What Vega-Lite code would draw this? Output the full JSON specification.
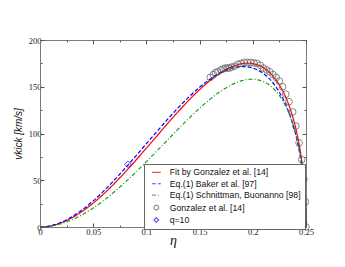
{
  "$schema": "https://vega.github.io/schema/vega-lite/v6.json",
  "autosize": {"type": "none"},
  "padding": {"left": 40, "top": 40, "right": 39, "bottom": 40},
  "width": 266,
  "height": 187,
  "background": "white",
  "config": {
    "view": {"stroke": "#7a7a7a", "strokeWidth": 1},
    "axis": {"grid": false, "domainColor": "#7a7a7a", "tickColor": "#555", "labelFont": "Liberation Serif", "labelFontSize": 8.5, "labelColor": "#222", "titleColor": "#111"},
    "legend": {"orient": "none", "legendX": 104, "legendY": 124, "strokeColor": "#666", "fillColor": "white", "padding": 4, "labelFont": "Liberation Sans", "labelFontSize": 8.7, "labelColor": "#111", "symbolSize": 22, "symbolStrokeWidth": 1.1, "rowPadding": 1.4, "symbolFillColor": "transparent", "labelOffset": 9, "symbolOffset": 4}
  },
  "datasets": {
    "curves": [
      {"series": "Fit by Gonzalez et al. [14]", "eta": 0, "v": 0},
      {"series": "Fit by Gonzalez et al. [14]", "eta": 0.005, "v": 0.3},
      {"series": "Fit by Gonzalez et al. [14]", "eta": 0.01, "v": 1.17},
      {"series": "Fit by Gonzalez et al. [14]", "eta": 0.02, "v": 4.52},
      {"series": "Fit by Gonzalez et al. [14]", "eta": 0.03, "v": 9.85},
      {"series": "Fit by Gonzalez et al. [14]", "eta": 0.04, "v": 16.94},
      {"series": "Fit by Gonzalez et al. [14]", "eta": 0.05, "v": 25.58},
      {"series": "Fit by Gonzalez et al. [14]", "eta": 0.06, "v": 35.56},
      {"series": "Fit by Gonzalez et al. [14]", "eta": 0.07, "v": 46.65},
      {"series": "Fit by Gonzalez et al. [14]", "eta": 0.08, "v": 58.62},
      {"series": "Fit by Gonzalez et al. [14]", "eta": 0.09, "v": 71.25},
      {"series": "Fit by Gonzalez et al. [14]", "eta": 0.10, "v": 84.31},
      {"series": "Fit by Gonzalez et al. [14]", "eta": 0.11, "v": 97.54},
      {"series": "Fit by Gonzalez et al. [14]", "eta": 0.12, "v": 110.7},
      {"series": "Fit by Gonzalez et al. [14]", "eta": 0.13, "v": 123.5},
      {"series": "Fit by Gonzalez et al. [14]", "eta": 0.14, "v": 135.7},
      {"series": "Fit by Gonzalez et al. [14]", "eta": 0.15, "v": 146.9},
      {"series": "Fit by Gonzalez et al. [14]", "eta": 0.16, "v": 156.9},
      {"series": "Fit by Gonzalez et al. [14]", "eta": 0.17, "v": 165.2},
      {"series": "Fit by Gonzalez et al. [14]", "eta": 0.18, "v": 171.3},
      {"series": "Fit by Gonzalez et al. [14]", "eta": 0.19, "v": 174.7},
      {"series": "Fit by Gonzalez et al. [14]", "eta": 0.195, "v": 175.2},
      {"series": "Fit by Gonzalez et al. [14]", "eta": 0.20, "v": 174.7},
      {"series": "Fit by Gonzalez et al. [14]", "eta": 0.205, "v": 173.2},
      {"series": "Fit by Gonzalez et al. [14]", "eta": 0.21, "v": 170.3},
      {"series": "Fit by Gonzalez et al. [14]", "eta": 0.22, "v": 160.0},
      {"series": "Fit by Gonzalez et al. [14]", "eta": 0.225, "v": 151.9},
      {"series": "Fit by Gonzalez et al. [14]", "eta": 0.23, "v": 141.1},
      {"series": "Fit by Gonzalez et al. [14]", "eta": 0.235, "v": 126.9},
      {"series": "Fit by Gonzalez et al. [14]", "eta": 0.24, "v": 107.4},
      {"series": "Fit by Gonzalez et al. [14]", "eta": 0.2425, "v": 94.7},
      {"series": "Fit by Gonzalez et al. [14]", "eta": 0.245, "v": 78.65},
      {"series": "Fit by Gonzalez et al. [14]", "eta": 0.2475, "v": 56.6},
      {"series": "Fit by Gonzalez et al. [14]", "eta": 0.249, "v": 36.2},
      {"series": "Fit by Gonzalez et al. [14]", "eta": 0.2495, "v": 25.7},
      {"series": "Fit by Gonzalez et al. [14]", "eta": 0.25, "v": 0},
      {"series": "Eq.(1) Baker et al.  [97]", "eta": 0, "v": 0},
      {"series": "Eq.(1) Baker et al.  [97]", "eta": 0.005, "v": 0.33},
      {"series": "Eq.(1) Baker et al.  [97]", "eta": 0.01, "v": 1.3},
      {"series": "Eq.(1) Baker et al.  [97]", "eta": 0.02, "v": 5.03},
      {"series": "Eq.(1) Baker et al.  [97]", "eta": 0.03, "v": 10.89},
      {"series": "Eq.(1) Baker et al.  [97]", "eta": 0.04, "v": 18.62},
      {"series": "Eq.(1) Baker et al.  [97]", "eta": 0.05, "v": 27.95},
      {"series": "Eq.(1) Baker et al.  [97]", "eta": 0.06, "v": 38.61},
      {"series": "Eq.(1) Baker et al.  [97]", "eta": 0.07, "v": 50.31},
      {"series": "Eq.(1) Baker et al.  [97]", "eta": 0.08, "v": 62.81},
      {"series": "Eq.(1) Baker et al.  [97]", "eta": 0.09, "v": 75.83},
      {"series": "Eq.(1) Baker et al.  [97]", "eta": 0.10, "v": 89.09},
      {"series": "Eq.(1) Baker et al.  [97]", "eta": 0.11, "v": 102.3},
      {"series": "Eq.(1) Baker et al.  [97]", "eta": 0.12, "v": 115.3},
      {"series": "Eq.(1) Baker et al.  [97]", "eta": 0.13, "v": 127.7},
      {"series": "Eq.(1) Baker et al.  [97]", "eta": 0.14, "v": 139.1},
      {"series": "Eq.(1) Baker et al.  [97]", "eta": 0.15, "v": 149.5},
      {"series": "Eq.(1) Baker et al.  [97]", "eta": 0.16, "v": 158.3},
      {"series": "Eq.(1) Baker et al.  [97]", "eta": 0.17, "v": 165.2},
      {"series": "Eq.(1) Baker et al.  [97]", "eta": 0.18, "v": 169.8},
      {"series": "Eq.(1) Baker et al.  [97]", "eta": 0.19, "v": 171.6},
      {"series": "Eq.(1) Baker et al.  [97]", "eta": 0.195, "v": 171.3},
      {"series": "Eq.(1) Baker et al.  [97]", "eta": 0.20, "v": 170.0},
      {"series": "Eq.(1) Baker et al.  [97]", "eta": 0.205, "v": 167.7},
      {"series": "Eq.(1) Baker et al.  [97]", "eta": 0.21, "v": 164.1},
      {"series": "Eq.(1) Baker et al.  [97]", "eta": 0.22, "v": 152.6},
      {"series": "Eq.(1) Baker et al.  [97]", "eta": 0.225, "v": 144.1},
      {"series": "Eq.(1) Baker et al.  [97]", "eta": 0.23, "v": 133.2},
      {"series": "Eq.(1) Baker et al.  [97]", "eta": 0.235, "v": 119.1},
      {"series": "Eq.(1) Baker et al.  [97]", "eta": 0.24, "v": 100.3},
      {"series": "Eq.(1) Baker et al.  [97]", "eta": 0.2425, "v": 88.2},
      {"series": "Eq.(1) Baker et al.  [97]", "eta": 0.245, "v": 73.0},
      {"series": "Eq.(1) Baker et al.  [97]", "eta": 0.2475, "v": 52.4},
      {"series": "Eq.(1) Baker et al.  [97]", "eta": 0.249, "v": 33.4},
      {"series": "Eq.(1) Baker et al.  [97]", "eta": 0.2495, "v": 23.7},
      {"series": "Eq.(1) Baker et al.  [97]", "eta": 0.25, "v": 0},
      {"series": "Eq.(1) Schnittman, Buonanno [98]", "eta": 0, "v": 0},
      {"series": "Eq.(1) Schnittman, Buonanno [98]", "eta": 0.005, "v": 0.23},
      {"series": "Eq.(1) Schnittman, Buonanno [98]", "eta": 0.01, "v": 0.9},
      {"series": "Eq.(1) Schnittman, Buonanno [98]", "eta": 0.02, "v": 3.52},
      {"series": "Eq.(1) Schnittman, Buonanno [98]", "eta": 0.03, "v": 7.72},
      {"series": "Eq.(1) Schnittman, Buonanno [98]", "eta": 0.04, "v": 13.38},
      {"series": "Eq.(1) Schnittman, Buonanno [98]", "eta": 0.05, "v": 20.37},
      {"series": "Eq.(1) Schnittman, Buonanno [98]", "eta": 0.06, "v": 28.53},
      {"series": "Eq.(1) Schnittman, Buonanno [98]", "eta": 0.07, "v": 37.71},
      {"series": "Eq.(1) Schnittman, Buonanno [98]", "eta": 0.08, "v": 47.78},
      {"series": "Eq.(1) Schnittman, Buonanno [98]", "eta": 0.09, "v": 58.54},
      {"series": "Eq.(1) Schnittman, Buonanno [98]", "eta": 0.10, "v": 69.84},
      {"series": "Eq.(1) Schnittman, Buonanno [98]", "eta": 0.11, "v": 81.47},
      {"series": "Eq.(1) Schnittman, Buonanno [98]", "eta": 0.12, "v": 93.24},
      {"series": "Eq.(1) Schnittman, Buonanno [98]", "eta": 0.13, "v": 104.9},
      {"series": "Eq.(1) Schnittman, Buonanno [98]", "eta": 0.14, "v": 116.3},
      {"series": "Eq.(1) Schnittman, Buonanno [98]", "eta": 0.15, "v": 127.0},
      {"series": "Eq.(1) Schnittman, Buonanno [98]", "eta": 0.16, "v": 136.8},
      {"series": "Eq.(1) Schnittman, Buonanno [98]", "eta": 0.17, "v": 145.3},
      {"series": "Eq.(1) Schnittman, Buonanno [98]", "eta": 0.18, "v": 152.1},
      {"series": "Eq.(1) Schnittman, Buonanno [98]", "eta": 0.19, "v": 156.5},
      {"series": "Eq.(1) Schnittman, Buonanno [98]", "eta": 0.195, "v": 157.7},
      {"series": "Eq.(1) Schnittman, Buonanno [98]", "eta": 0.20, "v": 158.0},
      {"series": "Eq.(1) Schnittman, Buonanno [98]", "eta": 0.205, "v": 157.3},
      {"series": "Eq.(1) Schnittman, Buonanno [98]", "eta": 0.21, "v": 155.5},
      {"series": "Eq.(1) Schnittman, Buonanno [98]", "eta": 0.22, "v": 147.5},
      {"series": "Eq.(1) Schnittman, Buonanno [98]", "eta": 0.225, "v": 140.7},
      {"series": "Eq.(1) Schnittman, Buonanno [98]", "eta": 0.23, "v": 131.3},
      {"series": "Eq.(1) Schnittman, Buonanno [98]", "eta": 0.235, "v": 118.6},
      {"series": "Eq.(1) Schnittman, Buonanno [98]", "eta": 0.24, "v": 100.9},
      {"series": "Eq.(1) Schnittman, Buonanno [98]", "eta": 0.2425, "v": 89.2},
      {"series": "Eq.(1) Schnittman, Buonanno [98]", "eta": 0.245, "v": 74.3},
      {"series": "Eq.(1) Schnittman, Buonanno [98]", "eta": 0.2475, "v": 53.6},
      {"series": "Eq.(1) Schnittman, Buonanno [98]", "eta": 0.249, "v": 34.3},
      {"series": "Eq.(1) Schnittman, Buonanno [98]", "eta": 0.2495, "v": 24.3},
      {"series": "Eq.(1) Schnittman, Buonanno [98]", "eta": 0.25, "v": 0}
    ],
    "points": [
      {"series": "Gonzalez et al. [14]", "eta": 0.160, "v": 160},
      {"series": "Gonzalez et al. [14]", "eta": 0.163, "v": 163},
      {"series": "Gonzalez et al. [14]", "eta": 0.165, "v": 165},
      {"series": "Gonzalez et al. [14]", "eta": 0.167, "v": 166},
      {"series": "Gonzalez et al. [14]", "eta": 0.170, "v": 168},
      {"series": "Gonzalez et al. [14]", "eta": 0.172, "v": 169},
      {"series": "Gonzalez et al. [14]", "eta": 0.174, "v": 170},
      {"series": "Gonzalez et al. [14]", "eta": 0.176, "v": 170},
      {"series": "Gonzalez et al. [14]", "eta": 0.178, "v": 170},
      {"series": "Gonzalez et al. [14]", "eta": 0.180, "v": 171},
      {"series": "Gonzalez et al. [14]", "eta": 0.183, "v": 172},
      {"series": "Gonzalez et al. [14]", "eta": 0.186, "v": 174},
      {"series": "Gonzalez et al. [14]", "eta": 0.189, "v": 175},
      {"series": "Gonzalez et al. [14]", "eta": 0.192, "v": 176},
      {"series": "Gonzalez et al. [14]", "eta": 0.195, "v": 176},
      {"series": "Gonzalez et al. [14]", "eta": 0.198, "v": 176},
      {"series": "Gonzalez et al. [14]", "eta": 0.201, "v": 175.5},
      {"series": "Gonzalez et al. [14]", "eta": 0.204, "v": 175},
      {"series": "Gonzalez et al. [14]", "eta": 0.207, "v": 173},
      {"series": "Gonzalez et al. [14]", "eta": 0.210, "v": 170},
      {"series": "Gonzalez et al. [14]", "eta": 0.213, "v": 168},
      {"series": "Gonzalez et al. [14]", "eta": 0.216, "v": 166},
      {"series": "Gonzalez et al. [14]", "eta": 0.219, "v": 163},
      {"series": "Gonzalez et al. [14]", "eta": 0.222, "v": 160},
      {"series": "Gonzalez et al. [14]", "eta": 0.225, "v": 156},
      {"series": "Gonzalez et al. [14]", "eta": 0.228, "v": 150},
      {"series": "Gonzalez et al. [14]", "eta": 0.231, "v": 142},
      {"series": "Gonzalez et al. [14]", "eta": 0.234, "v": 134},
      {"series": "Gonzalez et al. [14]", "eta": 0.2375, "v": 123},
      {"series": "Gonzalez et al. [14]", "eta": 0.2405, "v": 108},
      {"series": "Gonzalez et al. [14]", "eta": 0.2435, "v": 90},
      {"series": "Gonzalez et al. [14]", "eta": 0.246, "v": 72},
      {"series": "Gonzalez et al. [14]", "eta": 0.248, "v": 51},
      {"series": "Gonzalez et al. [14]", "eta": 0.2494, "v": 27},
      {"series": "Gonzalez et al. [14]", "eta": 0.25, "v": 0},
      {"series": "q=10", "eta": 0.0826, "v": 67}
    ]
  },
  "layer": [
    {
      "data": {"name": "curves"},
      "mark": {"type": "line", "strokeWidth": 1.2, "interpolate": "monotone"},
      "encoding": {
        "x": {"field": "eta", "type": "quantitative", "scale": {"domain": [0, 0.25], "nice": false, "zero": false},
          "axis": {"orient": "bottom", "values": [0, 0.025, 0.05, 0.075, 0.1, 0.125, 0.15, 0.175, 0.2, 0.225, 0.25],
            "labelExpr": "round(datum.value*1000) % 50 === 0 ? format(datum.value, '~g') : ''",
            "tickSize": {"condition": {"test": "round(datum.value*1000) % 50 === 0", "value": -4}, "value": -2},
            "labelPadding": 4, "labelFlush": false, "labelOverlap": false,
            "title": "η", "titleFont": "Liberation Serif", "titleFontStyle": "italic", "titleFontSize": 14, "titleFontWeight": "normal", "titlePadding": -4}},
        "y": {"field": "v", "type": "quantitative", "scale": {"domain": [0, 200], "nice": false},
          "axis": {"orient": "left", "values": [0, 25, 50, 75, 100, 125, 150, 175, 200],
            "labelExpr": "datum.value % 50 === 0 ? datum.label : ''",
            "tickSize": {"condition": {"test": "datum.value % 50 === 0", "value": -4}, "value": -2},
            "labelPadding": 3, "labelFlush": false, "labelOverlap": false,
            "title": "vkick [km/s]", "titleFont": "Liberation Sans", "titleFontStyle": "italic", "titleFontSize": 10, "titleFontWeight": "normal", "titlePadding": 5}},
        "color": {"field": "series", "type": "nominal",
          "scale": {"domain": ["Fit by Gonzalez et al. [14]", "Eq.(1) Baker et al.  [97]", "Eq.(1) Schnittman, Buonanno [98]", "Gonzalez et al. [14]", "q=10"],
                    "range": ["#ff0000", "#0000ff", "#1f9a1f", "#555555", "#0000ff"]},
          "legend": {"title": null}},
        "strokeDash": {"field": "series", "type": "nominal",
          "scale": {"domain": ["Fit by Gonzalez et al. [14]", "Eq.(1) Baker et al.  [97]", "Eq.(1) Schnittman, Buonanno [98]", "Gonzalez et al. [14]", "q=10"],
                    "range": [[1, 0], [4, 2], [4, 2, 1, 2], [1, 0], [1, 0]]},
          "legend": {"title": null}}
      }
    },
    {
      "data": {"name": "points"},
      "mark": {"type": "point", "filled": false, "size": 45, "strokeWidth": 1},
      "encoding": {
        "x": {"field": "eta", "type": "quantitative",
          "axis": {"orient": "top", "values": [0, 0.025, 0.05, 0.075, 0.1, 0.125, 0.15, 0.175, 0.2, 0.225, 0.25], "labels": false, "domain": false, "title": null,
            "tickSize": {"condition": {"test": "round(datum.value*1000) % 50 === 0", "value": -4}, "value": -2}}},
        "y": {"field": "v", "type": "quantitative",
          "axis": {"orient": "right", "values": [0, 25, 50, 75, 100, 125, 150, 175, 200], "labels": false, "domain": false, "title": null,
            "tickSize": {"condition": {"test": "datum.value % 50 === 0", "value": -4}, "value": -2}}},
        "color": {"field": "series", "type": "nominal", "legend": {"title": null}},
        "shape": {"field": "series", "type": "nominal",
          "scale": {"domain": ["Fit by Gonzalez et al. [14]", "Eq.(1) Baker et al.  [97]", "Eq.(1) Schnittman, Buonanno [98]", "Gonzalez et al. [14]", "q=10"],
                    "range": ["M-1.9,0L1.9,0", "M-1.9,0L1.9,0", "M-1.9,0L1.9,0", "circle", "diamond"]},
          "legend": {"title": null}}
      }
    }
  ],
  "resolve": {"axis": {"x": "independent", "y": "independent"}}
}
